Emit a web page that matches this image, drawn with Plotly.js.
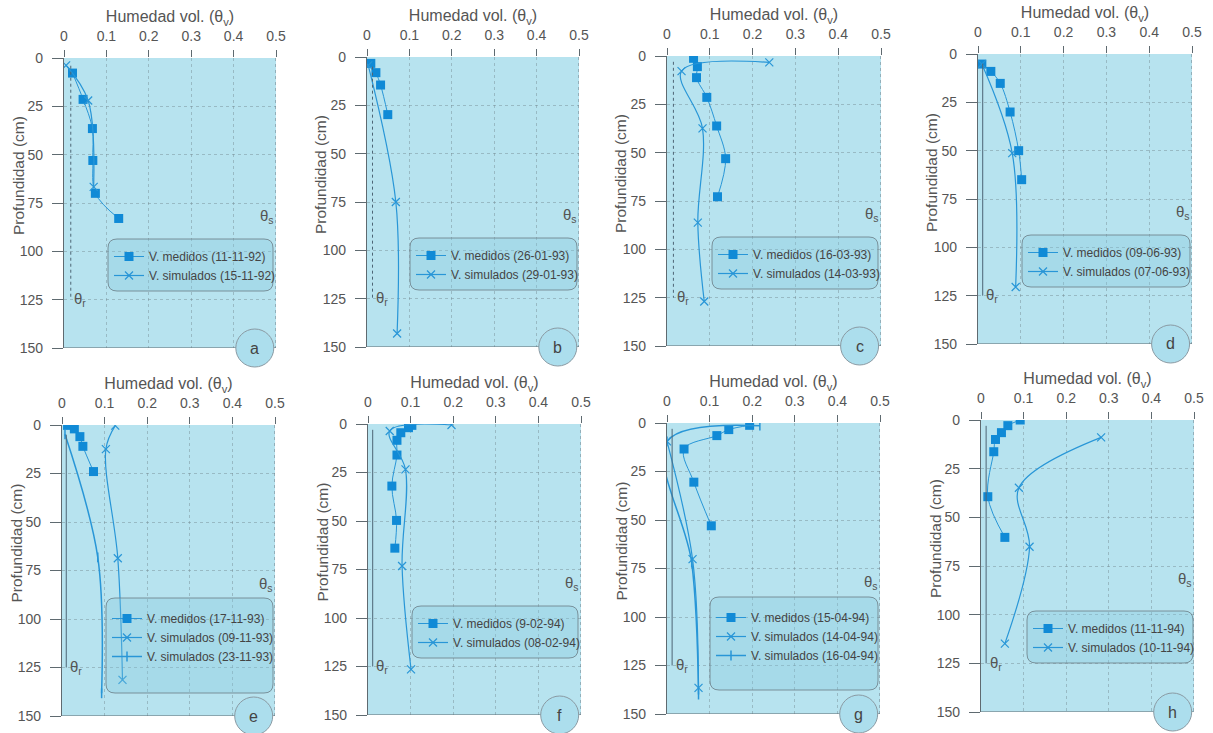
<!DOCTYPE html>
<html>
<head>
<meta charset="utf-8">
<script src="https://cdn.plot.ly/plotly-3.0.1.min.js"></script>
<style>html,body{margin:0;padding:0;background:#fff;}#chart{width:1213px;height:733px;}</style>
</head>
<body>
<div id="chart"></div>
<script>
// ---------- DATA ----------
const panelLetters = ['a','b','c','d','e','f','g','h'];
const xTicks = [0, 0.1, 0.2, 0.3, 0.4, 0.5];
const yTicks = [0, 25, 50, 75, 100, 125, 150];
const thetaR = [0.016, 0.013, 0.015, 0.011, 0.010, 0.011, 0.012, 0.012];
const thetaRTop = [4, 5, 3, 5, 5, 3, 3, 3];
const thetaRBottom = 125;
const thetaSDepth = 82;
const letterX = 0.45;
const xTitle = 'Humedad vol. (θ<sub>v</sub>)';
const yTitle = 'Profundidad (cm)';

// a
const aMedX = [0.020, 0.045, 0.067, 0.068, 0.074, 0.129];
const aMedY = [7.8, 21.4, 36.5, 53, 70, 83];
const aSimX = [0.005, 0.057, 0.070];
const aSimY = [3.8, 22, 66.7];
const aLabels = ['V. medidos (11-11-92)', 'V. simulados (15-11-92)'];
// b
const bMedX = [0.009, 0.021, 0.032, 0.049];
const bMedY = [3.3, 8.1, 14.5, 29.8];
const bSimX = [0.003, 0.068, 0.071];
const bSimY = [4.3, 75, 143];
const bLabels = ['V. medidos (26-01-93)', 'V. simulados (29-01-93)'];
// c
const cMedX = [0.062, 0.071, 0.069, 0.093, 0.116, 0.137, 0.118];
const cMedY = [1.2, 5.5, 11.2, 21.4, 36.2, 53.1, 72.8];
const cSimX = [0.239, 0.034, 0.083, 0.072, 0.087];
const cSimY = [3.3, 7.8, 37.4, 86.2, 127];
const cLabels = ['V. medidos (16-03-93)', 'V. simulados (14-03-93)'];
// d
const dMedX = [0.009, 0.030, 0.052, 0.075, 0.095, 0.102];
const dMedY = [5.2, 9, 15.2, 30, 50, 65];
const dSimX = [0.009, 0.080, 0.088];
const dSimY = [5.2, 51.3, 120.5];
const dLabels = ['V. medidos (09-06-93)', 'V. simulados (07-06-93)'];
// e
const eMedX = [0.013, 0.029, 0.042, 0.049, 0.074];
const eMedY = [0.2, 2, 6, 11, 24];
const eSimX = [0.125, 0.103, 0.131, 0.142];
const eSimY = [0.3, 12.4, 68.7, 131.4];
const eSim2X = [0.007, 0.084, 0.093];
const eSim2Y = [4.8, 68.2, 138.3];
const eLabels = ['V. medidos (17-11-93)', 'V. simulados (09-11-93)', 'V. simulados (23-11-93)'];
// f
const fMedX = [0.103, 0.095, 0.077, 0.068, 0.068, 0.056, 0.067, 0.063];
const fMedY = [0.7, 1.9, 4.5, 8.4, 16, 32, 49.7, 64];
const fSimX = [0.196, 0.051, 0.088, 0.080, 0.101];
const fSimY = [0.5, 3.6, 23.4, 73.2, 126.5];
const fLabels = ['V. medidos (9-02-94)', 'V. simulados (08-02-94)'];
// g
const gMedX = [0.194, 0.145, 0.117, 0.040, 0.063, 0.104];
const gMedY = [1.2, 3.4, 6.5, 13.4, 30.5, 53];
const gSimX = [0.000, 0.060, 0.074];
const gSimY = [9.5, 70.2, 136.5];
const gSim2X = [0.218, 0.000, 0.058, 0.074];
const gSim2Y = [1.4, 9.5, 72, 140];
const gLabels = ['V. medidos (15-04-94)', 'V. simulados (14-04-94)', 'V. simulados (16-04-94)'];
// h
const hMedX = [0.092, 0.063, 0.048, 0.034, 0.030, 0.016, 0.056];
const hMedY = [0, 2.9, 6.5, 10, 16.3, 39.4, 60.3];
const hSimX = [0.282, 0.089, 0.114, 0.056];
const hSimY = [8.9, 34.8, 65.1, 114.9];
const hLabels = ['V. medidos (11-11-94)', 'V. simulados (10-11-94)'];

// ---------- LAYOUT ----------
const W = 1213, H = 733;
const FONT = '"Liberation Sans", Arial, sans-serif';
const BLUE = 'rgb(16,138,214)';
const LINEBLUE = 'rgb(40,150,215)';
const GRAY = '#5f6a70';
const GRID = 'rgba(115,135,145,0.45)';
const XMAX = 0.5;

// plot areas in pixels [left, right, top, bottom]
const plotBoxes = [
  [64, 276, 58, 348], [367, 579, 57, 347], [667, 881, 56, 346], [978, 1192, 54, 344],
  [62, 275, 425, 716], [368, 581, 424, 715], [667, 880, 423, 714], [981, 1194, 420, 712]
];
// legend boxes in pixels [left, right, top, bottom]
const legendBoxes = [
  [108, 273, 239, 291], [410, 577, 238, 290], [712, 878, 237, 289], [1022, 1190, 235, 287],
  [106, 273, 598, 693], [412, 578, 606, 658], [710, 878, 597, 690], [1027, 1193, 611, 663]
];

const series = [
  {med: [aMedX, aMedY], sims: [[aSimX, aSimY, 'x']], labels: aLabels, thetaDash: 'dot'},
  {med: [bMedX, bMedY], sims: [[bSimX, bSimY, 'x']], labels: bLabels, thetaDash: 'dot'},
  {med: [cMedX, cMedY], sims: [[cSimX, cSimY, 'x']], labels: cLabels, thetaDash: 'dot'},
  {med: [dMedX, dMedY], sims: [[dSimX, dSimY, 'x']], labels: dLabels, thetaDash: 'solid'},
  {med: [eMedX, eMedY], sims: [[eSimX, eSimY, 'x'], [eSim2X, eSim2Y, 'plus']], labels: eLabels, thetaDash: 'solid'},
  {med: [fMedX, fMedY], sims: [[fSimX, fSimY, 'x']], labels: fLabels, thetaDash: 'solid'},
  {med: [gMedX, gMedY], sims: [[gSimX, gSimY, 'x'], [gSim2X, gSim2Y, 'plus']], labels: gLabels, thetaDash: 'solid'},
  {med: [hMedX, hMedY], sims: [[hSimX, hSimY, 'x']], labels: hLabels, thetaDash: 'solid'}
];

const px2x = p => p / W;
const px2y = p => 1 - p / H;
function roundRect(x0, x1, y0, y1, r) {
  const X = px2x, Y = px2y;
  return `M${X(x0 + r)},${Y(y0)} L${X(x1 - r)},${Y(y0)} Q${X(x1)},${Y(y0)} ${X(x1)},${Y(y0 + r)} ` +
         `L${X(x1)},${Y(y1 - r)} Q${X(x1)},${Y(y1)} ${X(x1 - r)},${Y(y1)} ` +
         `L${X(x0 + r)},${Y(y1)} Q${X(x0)},${Y(y1)} ${X(x0)},${Y(y1 - r)} ` +
         `L${X(x0)},${Y(y0 + r)} Q${X(x0)},${Y(y0)} ${X(x0 + r)},${Y(y0)} Z`;
}

const traces = [];
const shapes = [];
const annotations = [];
const layout = {
  width: W, height: H,
  margin: {l: 0, r: 0, t: 0, b: 0},
  paper_bgcolor: '#ffffff',
  plot_bgcolor: 'rgb(183,227,239)',
  font: {family: FONT, color: '#555', size: 14},
  showlegend: true
};

series.forEach((s, i) => {
  const suf = i === 0 ? '' : String(i + 1);
  const xa = 'x' + suf, ya = 'y' + suf;
  const leg = 'legend' + suf;
  const [l, r, t, b] = plotBoxes[i];
  const three = s.sims.length > 1;

  layout['xaxis' + suf] = {
    domain: [l / W, r / W], anchor: ya, side: 'top', range: [0, XMAX],
    tickvals: xTicks, ticktext: xTicks.map(v => String(v)),
    ticks: 'outside', ticklen: 7, tickcolor: GRAY, tickwidth: 1, ticklabelstandoff: 3,
    showline: false, zeroline: false,
    showgrid: true, gridcolor: GRID, griddash: 'dot', gridwidth: 1,
    tickfont: {size: 14, color: '#555', family: FONT},
    title: {text: xTitle, font: {size: 16, color: '#555', family: FONT}, standoff: 1},
    fixedrange: true
  };
  layout['yaxis' + suf] = {
    domain: [1 - b / H, 1 - t / H], anchor: xa, range: [150, 0],
    tickvals: yTicks, ticks: 'outside', ticklen: 11, tickcolor: GRAY, tickwidth: 1, ticklabelstandoff: 6,
    showline: true, linecolor: GRAY, linewidth: 1.2, zeroline: false,
    showgrid: true, gridcolor: GRID, griddash: 'dot', gridwidth: 1,
    tickfont: {size: 14, color: '#555', family: FONT},
    fixedrange: true
  };
  // y title (placed like the reference: close to the 2-digit labels)
  annotations.push({xref: 'paper', yref: 'paper', x: px2x(l - 46), y: px2y((t + b) / 2 - 27),
                    xanchor: 'center', yanchor: 'middle', textangle: -90, showarrow: false,
                    text: yTitle, font: {family: FONT, size: 15.5, color: '#555'}});

  // measured
  traces.push({
    type: 'scatter', mode: 'lines+markers', x: s.med[0], y: s.med[1], name: s.labels[0],
    xaxis: xa, yaxis: ya, legend: leg, legendgroup: 'm' + i,
    line: {shape: 'spline', width: 1, color: LINEBLUE},
    marker: {symbol: 'square', size: 9, color: BLUE}
  });
  // simulated
  s.sims.forEach((sim, k) => {
    const isPlus = sim[2] === 'plus';
    traces.push({
      type: 'scatter', mode: 'lines+markers', x: sim[0], y: sim[1], name: s.labels[k + 1],
      xaxis: xa, yaxis: ya, legend: leg, legendgroup: 's' + i + '_' + k,
      line: {shape: 'spline', width: isPlus ? 1.5 : 1.2, color: LINEBLUE},
      marker: {symbol: isPlus ? 'line-ns' : 'x-thin', size: isPlus ? 7 : 8,
               color: LINEBLUE, line: {width: isPlus ? 1.5 : 1.2, color: LINEBLUE}}
    });
  });

  // legend box
  const [lx0, lx1, ly0, ly1] = legendBoxes[i];
  shapes.push({type: 'path', xref: 'paper', yref: 'paper', path: roundRect(lx0, lx1, ly0, ly1, 9),
               fillcolor: 'rgba(130,200,222,0.32)', line: {color: 'rgba(110,130,140,0.85)', width: 1}, layer: 'above'});
  layout[leg] = {
    x: px2x(lx0 + 1), y: px2y(ly0 + (three ? 6 : 3)), xanchor: 'left', yanchor: 'top',
    bgcolor: 'rgba(0,0,0,0)', borderwidth: 0,
    font: {family: FONT, size: 12, color: '#444'},
    itemwidth: 30, tracegroupgap: three ? 12 : 0, traceorder: 'normal', itemclick: false
  };

  // theta_r line and label
  shapes.push({type: 'line', xref: xa, yref: ya, x0: thetaR[i], x1: thetaR[i], y0: thetaRTop[i], y1: thetaRBottom,
               line: {color: '#4d6575', width: 1, dash: s.thetaDash}, layer: 'above'});
  annotations.push({xref: xa, yref: ya, x: thetaR[i] + 0.004, y: thetaRBottom, xanchor: 'left', yanchor: 'middle',
                    text: 'θ<sub>r</sub>', showarrow: false, font: {family: FONT, size: 15, color: '#555'}});
  // theta_s label
  annotations.push({xref: xa, yref: ya, x: XMAX, y: thetaSDepth, xanchor: 'right', yanchor: 'middle',
                    text: 'θ<sub>s</sub>', showarrow: false, font: {family: FONT, size: 15, color: '#555'}});
  // right dotted edge and bottom edge
  shapes.push({type: 'line', xref: xa, yref: ya, x0: XMAX, x1: XMAX, y0: 0, y1: 150,
               line: {color: '#6c7b84', width: 1, dash: 'dot'}, layer: 'above'});
  shapes.push({type: 'line', xref: xa, yref: ya, x0: 0, x1: XMAX, y0: 150, y1: 150,
               line: {color: GRAY, width: 1.2}, layer: 'above'});
  // letter circle (paper-referenced so it is not clipped by the plot area)
  const cx = l + (letterX / XMAX) * (r - l), cy = b;
  shapes.push({type: 'circle', xref: 'paper', yref: 'paper', xsizemode: 'pixel', ysizemode: 'pixel',
               xanchor: px2x(cx), yanchor: px2y(cy), x0: -19, x1: 19, y0: -19, y1: 19,
               fillcolor: 'rgb(172,222,237)', line: {color: '#8a9aa3', width: 1}, layer: 'above'});
  annotations.push({xref: 'paper', yref: 'paper', x: px2x(cx), y: px2y(cy), xanchor: 'center', yanchor: 'middle',
                    text: panelLetters[i], showarrow: false, font: {family: FONT, size: 16, color: '#444'}});
});

layout.shapes = shapes;
layout.annotations = annotations;

Plotly.newPlot('chart', traces, layout, {displayModeBar: false, staticPlot: true});
</script>
</body>
</html>
